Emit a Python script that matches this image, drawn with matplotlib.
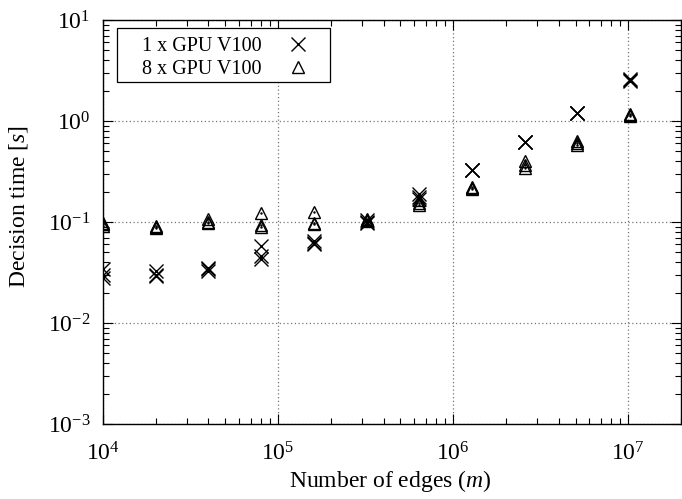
import matplotlib
matplotlib.use("Agg")
import matplotlib.pyplot as plt
from matplotlib.patches import Rectangle
from matplotlib.ticker import LogLocator, FixedLocator, NullFormatter

plt.rcParams['font.family'] = ['Liberation Serif', 'DejaVu Serif']
plt.rcParams['mathtext.fontset'] = 'custom'
plt.rcParams['mathtext.rm'] = 'Liberation Serif'
plt.rcParams['mathtext.it'] = 'Liberation Serif:italic'

# ---- data ----
edges = [10000, 20000, 40000, 80000, 160000, 320000, 640000,
         1280000, 2560000, 5120000, 10240000]

# repeated runs per edge count
time_1gpu = [
    [0.034, 0.030, 0.028],
    [0.033, 0.030, 0.029],
    [0.035, 0.034, 0.033],
    [0.058, 0.046, 0.043],
    [0.065, 0.062, 0.060],
    [0.105, 0.100, 0.097],
    [0.190, 0.175, 0.170],
    [0.330, 0.330, 0.330],
    [0.620, 0.620, 0.620],
    [1.20, 1.20, 1.20],
    [2.60, 2.55, 2.50],
]
time_8gpu = [
    [0.098, 0.095, 0.092],
    [0.092, 0.090, 0.088],
    [0.106, 0.100, 0.097],
    [0.122, 0.093, 0.090],
    [0.125, 0.098, 0.096],
    [0.108, 0.105, 0.102],
    [0.165, 0.155, 0.148],
    [0.220, 0.215, 0.210],
    [0.400, 0.370, 0.340],
    [0.630, 0.600, 0.580],
    [1.17, 1.15, 1.13],
]
labels = ["1 x GPU V100", "8 x GPU V100"]
x_major = [1e4, 1e5, 1e6, 1e7]
x_major_labels = ["$10^{4}$", "$10^{5}$", "$10^{6}$", "$10^{7}$"]
y_major = [1e-3, 1e-2, 1e-1, 1e0, 1e1]
y_major_labels = ["$10^{-3}$", "$10^{-2}$", "$10^{-1}$", "$10^{0}$", "$10^{1}$"]

W, H = 682, 499
fig = plt.figure(figsize=(W / 100, H / 100), dpi=100)
AX_L, AX_R, AX_T, AX_B = 103, 681, 20, 424
ax = fig.add_axes([AX_L / W, (H - AX_B) / H, (AX_R - AX_L) / W, (AX_B - AX_T) / H])
aw, ah = AX_R - AX_L, AX_B - AX_T

xs1, ys1, xs8, ys8 = [], [], [], []
for e, runs in zip(edges, time_1gpu):
    for v in runs:
        xs1.append(e); ys1.append(v)
for e, runs in zip(edges, time_8gpu):
    for v in runs:
        xs8.append(e); ys8.append(v)

ax.plot(xs1, ys1, linestyle='none', marker='x', markersize=10,
        markeredgewidth=1.0, color='black', label=labels[0], zorder=3)
ax.plot(xs8, ys8, linestyle='none', marker='^', markersize=9,
        markerfacecolor='none', markeredgewidth=1.0, color='black',
        label=labels[1], zorder=3)
ax.plot(xs8, ys8, linestyle='none', marker='.', markersize=1.5,
        color='black', zorder=3)

ax.set_xscale('log')
ax.set_yscale('log')
ax.set_xlim(1e4, 2e7)
ax.set_ylim(1e-3, 1e1)

ax.xaxis.set_major_locator(FixedLocator(x_major))
ax.set_xticklabels(x_major_labels)
ax.yaxis.set_major_locator(FixedLocator(y_major))
ax.set_yticklabels(y_major_labels)
ax.xaxis.set_minor_locator(LogLocator(base=10, subs=range(2, 10), numticks=20))
ax.yaxis.set_minor_locator(LogLocator(base=10, subs=range(2, 10), numticks=20))
ax.xaxis.set_minor_formatter(NullFormatter())
ax.yaxis.set_minor_formatter(NullFormatter())

ax.tick_params(which='both', direction='in', top=True, right=True,
               labelsize=17, width=0.8, colors='black')
ax.tick_params(which='major', length=7)
ax.tick_params(which='minor', length=4)
ax.tick_params(axis='x', which='major', pad=13)
ax.tick_params(axis='y', which='major', pad=9)

ax.grid(True, which='major', linestyle=(0, (1, 2)), color='#777777',
        linewidth=0.9, zorder=0)
for s in ax.spines.values():
    s.set_linewidth(1.0)
    s.set_color('black')

ax.set_xlabel("Number of edges ($m$)", fontsize=17)
ax.xaxis.set_label_coords((390 - AX_L) / aw, -(468 - AX_B) / ah)
ax.set_ylabel("Decision time [$s$]", fontsize=17)
ax.yaxis.set_label_coords(-(AX_L - 30) / aw, (AX_B - 207) / ah)

# legend box (gnuplot style)
bx0, bx1, by0, by1 = 117, 330, 28, 82
ax.add_patch(Rectangle(((bx0 - AX_L) / aw, (AX_B - by1) / ah),
                       (bx1 - bx0) / aw, (by1 - by0) / ah,
                       transform=ax.transAxes, facecolor='white',
                       edgecolor='black', linewidth=0.9, zorder=4))
leg = ax.legend(loc='upper left', bbox_to_anchor=((142 - AX_L) / aw, (AX_B - 37) / ah),
                markerfirst=False, fontsize=14.5, frameon=False,
                borderpad=0, handlelength=2.0, handletextpad=0.8,
                labelspacing=0.2, borderaxespad=0)
leg.set_zorder(5)

fig.savefig("out.png", dpi=100)
